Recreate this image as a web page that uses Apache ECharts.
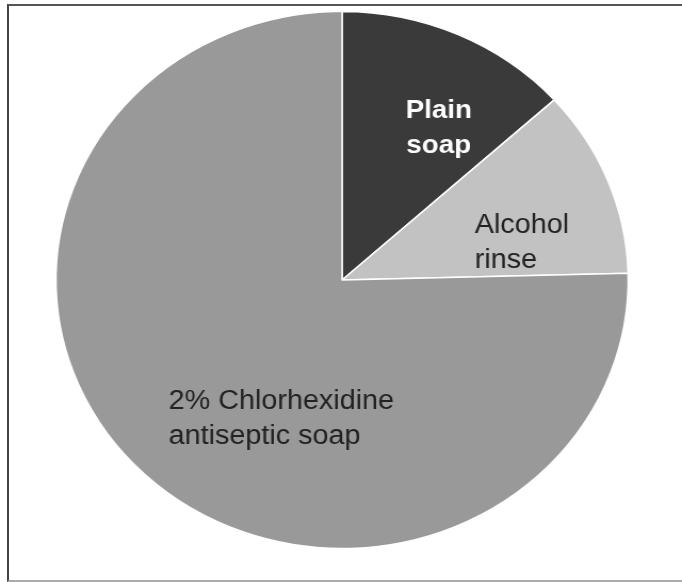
<!DOCTYPE html>
<html>
<head>
<meta charset="utf-8">
<script src="https://cdn.jsdelivr.net/npm/echarts@6/dist/echarts.min.js"></script>
<style>
  html, body { margin: 0; padding: 0; background: #fff; }
  #frame {
    position: absolute; left: 7px; top: 4px; width: 675px; height: 574px;
    border-top: 2px solid #555; border-left: 2px solid #444; border-bottom: 2px solid #aaa;
    box-sizing: content-box;
  }
  /* the original pie is a bit wider than tall, so stretch the canvas horizontally */
  #myChart {
    position: absolute; left: 0; top: 0; width: 640px; height: 582px;
    transform: scaleX(1.0656); transform-origin: 0 0;
  }
</style>
</head>
<body>
<div id="frame"></div>
<div id="myChart"></div>
<script>
const categories = ["Plain\nsoap", "Alcohol\nrinse", "2% Chlorhexidine\nantiseptic soap"];
const values = [13.3, 11.3, 75.4];
const colors = ["#3a3a3a", "#c2c2c2", "#999999"];

let chart = echarts.init(document.getElementById("myChart"));

// label nudges from the default "inside" spot
const labelMoves = [
  { dx: 35, dy: -26, align: "center" },
  { dx: -3, dy: 14, align: "left" },
  { dx: -67, dy: 41, align: "left" }
];

let option = {
  animation: false,
  series: [
    {
      type: "pie",
      center: [321, 280],
      radius: 268.5,
      startAngle: 90,
      clockwise: true,
      itemStyle: {
        borderColor: "#ffffff",
        borderWidth: 1.5
      },
      label: {
        show: true,
        position: "inside",
        formatter: "{b}",
        fontFamily: "Liberation Sans, Arial, sans-serif",
        fontSize: 27,
        lineHeight: 35,
        color: "#222222"
      },
      labelLine: { show: false },
      labelLayout: function(params) {
        return labelMoves[params.dataIndex];
      },
      data: categories.map(function(name, i) {
        let item = {
          name: name,
          value: values[i],
          itemStyle: { color: colors[i] }
        };
        if (i === 0) {
          item.label = { color: "#ffffff", fontWeight: "bold", fontSize: 26 };
        }
        return item;
      })
    }
  ]
};

chart.setOption(option);
</script>
</body>
</html>
